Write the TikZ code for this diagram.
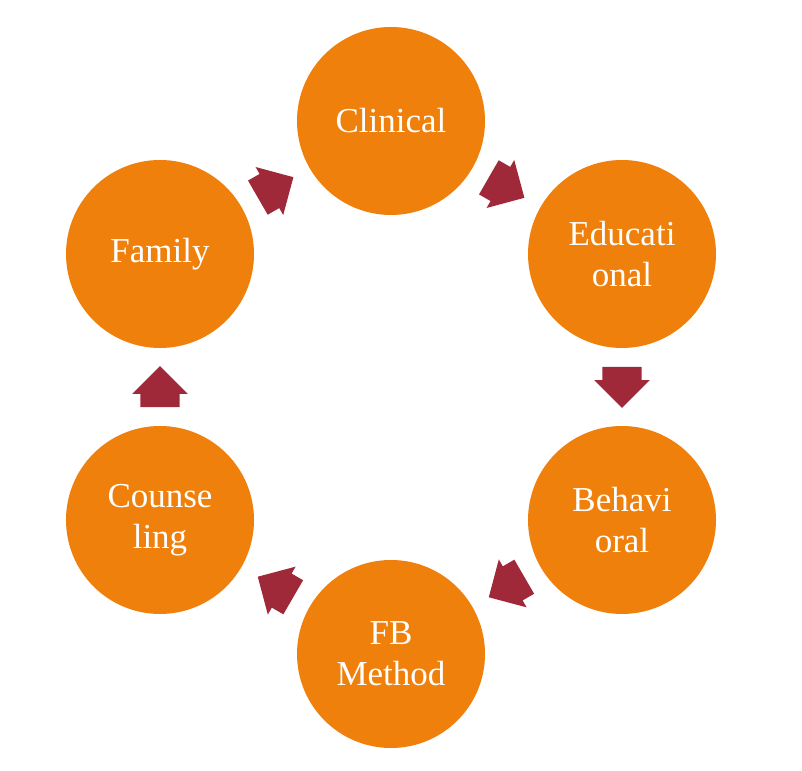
\documentclass[tikz,border=0pt]{standalone}
\usepackage{fontspec}
\setmainfont{Liberation Serif}
\usetikzlibrary{shapes.arrows}
\definecolor{cycorange}{RGB}{239,128,11}
\definecolor{cycred}{RGB}{160,41,57}

\begin{document}
\begin{tikzpicture}[x=1pt,y=1pt,
  stage/.style={circle, fill=cycorange, minimum size=188pt, inner sep=0pt,
    text=white, font=\fontsize{35}{41}\selectfont, align=center},
  blockarrow/.style={single arrow, fill=cycred, minimum height=41pt,
    inner xsep=0pt, inner ysep=19.5pt, single arrow head extend=8pt,
    single arrow head indent=0pt, sloped, allow upside down,
    pos=0.237, anchor=tail}]
  \useasboundingbox (0,0) rectangle (802,770);
  % the six stages
  \node[stage] (clin) at (391,649) {Clinical};
  \node[stage] (educ) at (622,516) {Educati\\onal};
  \node[stage] (behav) at (622,250) {Behavi\\oral};
  \node[stage] (fbm) at (391,116) {FB\\Method};
  \node[stage] (couns) at (160,250) {Counse\\ling};
  \node[stage] (fam) at (160,516) {Family};
  % arrows round the cycle
  \path (clin) -- node[blockarrow] (a1) {} (educ);
  \path (educ) -- node[blockarrow] (a2) {} (behav);
  \path (behav) -- node[blockarrow] (a3) {} (fbm);
  \path (fbm) -- node[blockarrow] (a4) {} (couns);
  \path (couns) -- node[blockarrow] (a5) {} (fam);
  \path (fam) -- node[blockarrow] (a6) {} (clin);
\end{tikzpicture}
\end{document}
